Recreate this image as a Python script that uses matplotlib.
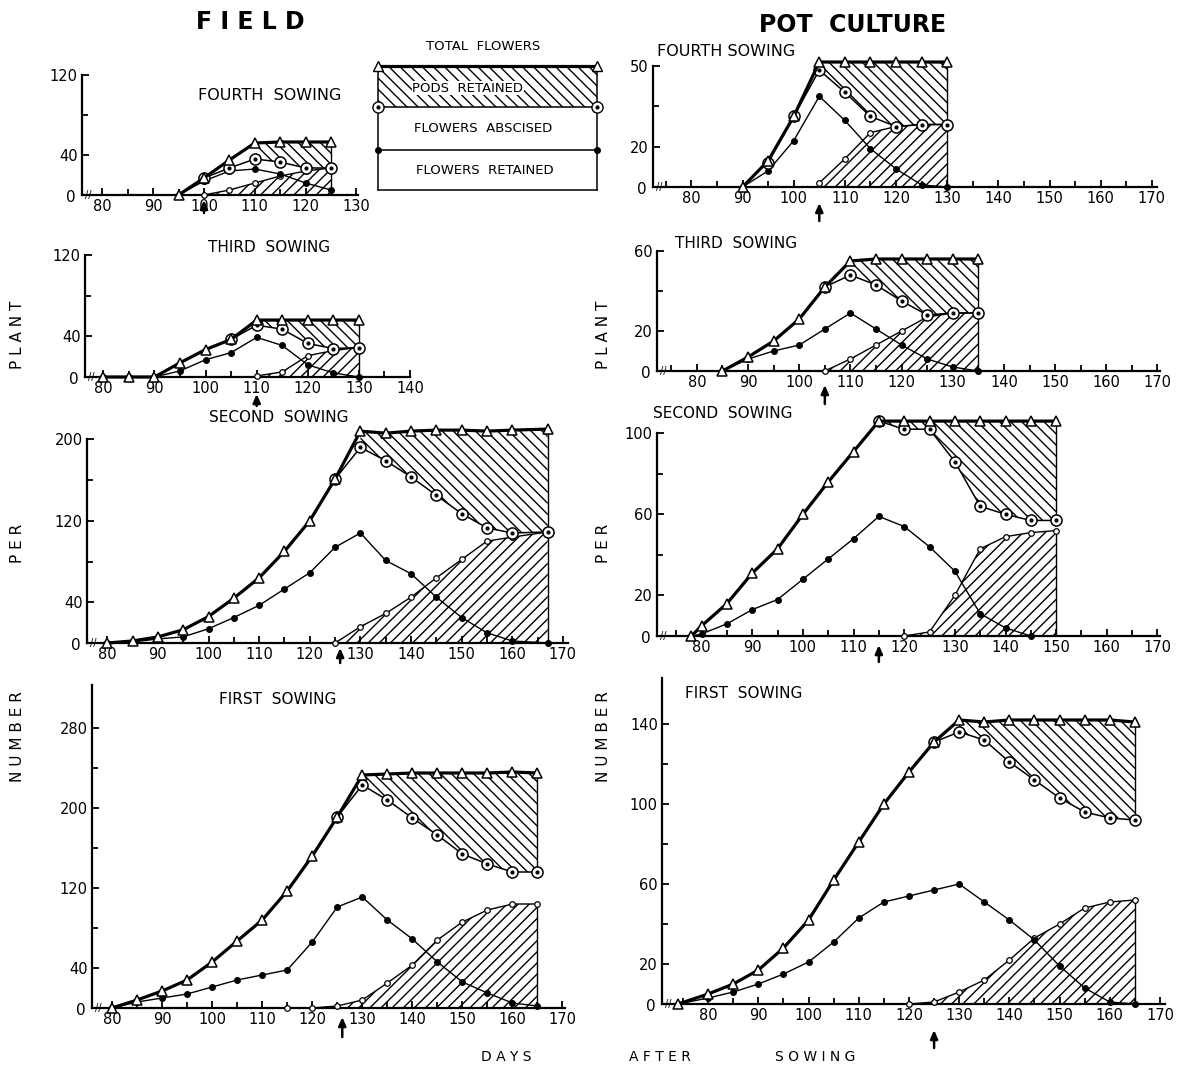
import numpy as np
import matplotlib.pyplot as plt
from matplotlib.ticker import FixedLocator, MultipleLocator

plt.rcParams['font.family'] = ['DejaVu Sans']
plt.rcParams['hatch.linewidth'] = 1.0

W, H = 1198, 1072

# ---------------- data (days after sowing, number per plant) ----------------
# FIELD - fourth sowing
f4_total_days = [95, 100, 105, 110, 115, 120, 125]
f4_total = [0, 17, 35, 52, 53, 53, 53]
f4_open_days = [100, 105, 110, 115, 120, 125]
f4_open = [17, 27, 36, 33, 27, 27]
f4_ret_days = [95, 100, 105, 110, 115, 120, 125]
f4_ret = [0, 14, 24, 26, 21, 12, 5]
f4_pods_days = [100, 105, 110, 115, 120, 125]
f4_pods = [0, 5, 12, 19, 24, 27]

# FIELD - third sowing
f3_total_days = [80, 85, 90, 95, 100, 105, 110, 115, 120, 125, 130]
f3_total = [0, 0, 0, 14, 27, 37, 56, 56, 56, 56, 56]
f3_open_days = [105, 110, 115, 120, 125, 130]
f3_open = [37, 51, 47, 33, 28, 29]
f3_ret_days = [80, 85, 90, 95, 100, 105, 110, 115, 120, 125, 130]
f3_ret = [0, 0, 0, 6, 17, 24, 39, 31, 12, 4, 0]
f3_pods_days = [110, 115, 120, 125, 130]
f3_pods = [1, 5, 21, 26, 29]

# FIELD - second sowing
f2_total_days = [80, 85, 90, 95, 100, 105, 110, 115, 120, 125, 130, 135, 140, 145, 150, 155, 160, 167]
f2_total = [0, 2, 6, 13, 26, 44, 64, 90, 120, 161, 208, 206, 208, 209, 209, 208, 209, 210]
f2_open_days = [125, 130, 135, 140, 145, 150, 155, 160, 167]
f2_open = [161, 192, 179, 163, 145, 127, 113, 108, 109]
f2_ret_days = [80, 85, 90, 95, 100, 105, 110, 115, 120, 125, 130, 135, 140, 145, 150, 155, 160, 167]
f2_ret = [0, 1, 4, 6, 14, 25, 37, 53, 69, 94, 108, 81, 68, 45, 25, 10, 2, 0]
f2_pods_days = [125, 130, 135, 140, 145, 150, 155, 160, 167]
f2_pods = [0, 16, 29, 45, 64, 82, 100, 104, 109]

# FIELD - first sowing
f1_total_days = [80, 85, 90, 95, 100, 105, 110, 115, 120, 125, 130, 135, 140, 145, 150, 155, 160, 165]
f1_total = [0, 8, 17, 28, 46, 67, 88, 117, 152, 191, 233, 234, 235, 235, 235, 235, 236, 235]
f1_open_days = [125, 130, 135, 140, 145, 150, 155, 160, 165]
f1_open = [191, 223, 208, 190, 173, 154, 144, 136, 136]
f1_ret_days = [80, 85, 90, 95, 100, 105, 110, 115, 120, 125, 130, 135, 140, 145, 150, 155, 160, 165]
f1_ret = [0, 6, 10, 14, 21, 28, 33, 38, 66, 101, 111, 88, 69, 46, 26, 15, 5, 2]
f1_pods_days = [115, 120, 125, 130, 135, 140, 145, 150, 155, 160, 165]
f1_pods = [0, 0, 2, 8, 25, 43, 68, 86, 98, 104, 104]

# POT CULTURE - fourth sowing
p4_total_days = [90, 95, 100, 105, 110, 115, 120, 125, 130]
p4_total = [0, 13, 35, 62, 62, 62, 62, 62, 62]
p4_open_days = [95, 100, 105, 110, 115, 120, 125, 130]
p4_open = [12, 35, 58, 47, 35, 30, 31, 31]
p4_ret_days = [90, 95, 100, 105, 110, 115, 120, 125, 130]
p4_ret = [0, 8, 23, 45, 33, 19, 9, 1, 0]
p4_pods_days = [105, 110, 115, 120, 125, 130]
p4_pods = [2, 14, 27, 30, 31, 31]

# POT CULTURE - third sowing
p3_total_days = [85, 90, 95, 100, 105, 110, 115, 120, 125, 130, 135]
p3_total = [0, 7, 15, 26, 42, 55, 56, 56, 56, 56, 56]
p3_open_days = [105, 110, 115, 120, 125, 130, 135]
p3_open = [42, 48, 43, 35, 28, 29, 29]
p3_ret_days = [85, 90, 95, 100, 105, 110, 115, 120, 125, 130, 135]
p3_ret = [0, 6, 10, 13, 21, 29, 21, 13, 6, 2, 0]
p3_pods_days = [105, 110, 115, 120, 125, 130, 135]
p3_pods = [0, 6, 13, 20, 27, 29, 29]

# POT CULTURE - second sowing
p2_total_days = [78, 80, 85, 90, 95, 100, 105, 110, 115, 120, 125, 130, 135, 140, 145, 150]
p2_total = [0, 5, 16, 31, 43, 60, 76, 91, 106, 106, 106, 106, 106, 106, 106, 106]
p2_open_days = [115, 120, 125, 130, 135, 140, 145, 150]
p2_open = [106, 102, 102, 86, 64, 60, 57, 57]
p2_ret_days = [78, 80, 85, 90, 95, 100, 105, 110, 115, 120, 125, 130, 135, 140, 145]
p2_ret = [0, 1, 6, 13, 18, 28, 38, 48, 59, 54, 44, 32, 11, 4, 0]
p2_pods_days = [120, 125, 130, 135, 140, 145, 150]
p2_pods = [0, 2, 20, 43, 49, 51, 52]

# POT CULTURE - first sowing
p1_total_days = [74, 80, 85, 90, 95, 100, 105, 110, 115, 120, 125, 130, 135, 140, 145, 150, 155, 160, 165]
p1_total = [0, 5, 10, 17, 28, 42, 62, 81, 100, 116, 131, 142, 141, 142, 142, 142, 142, 142, 141]
p1_open_days = [125, 130, 135, 140, 145, 150, 155, 160, 165]
p1_open = [131, 136, 132, 121, 112, 103, 96, 93, 92]
p1_ret_days = [74, 80, 85, 90, 95, 100, 105, 110, 115, 120, 125, 130, 135, 140, 145, 150, 155, 160, 165]
p1_ret = [0, 3, 6, 10, 15, 21, 31, 43, 51, 54, 57, 60, 51, 42, 32, 19, 8, 1, 0]
p1_pods_days = [120, 125, 130, 135, 140, 145, 150, 155, 160, 165]
p1_pods = [0, 1, 6, 12, 22, 33, 40, 48, 51, 52]

# y tick labels per panel
field_small_yticks = [40, 120]
field_2_yticks = [40, 120, 200]
field_1_yticks = [40, 120, 200, 280]
pot_4_yticks = [20, 60]
pot_4_ylabels = ['20', '50']
pot_3_yticks = [20, 60]
pot_2_yticks = [20, 60, 100]
pot_1_yticks = [20, 60, 100, 140]

# arrows under the day axis
field_arrow_days = [100, 110, 126, 126]
pot_arrow_days = [105, 105, 115, 125]

UP_HATCH = '\\\\\\'
LOW_HATCH = '///'

fig = plt.figure(figsize=(W / 100, H / 100), dpi=100)


def px_axes(x0, x1, y0, y1):
    # x0,x1 left/right pixel, y0 bottom pixel, y1 top pixel
    return fig.add_axes([x0 / W, 1 - y0 / H, (x1 - x0) / W, (y0 - y1) / H])


def ftext(x, y, s, **kw):
    fig.text(x / W, 1 - y / H, s, **kw)


def panel(geom, xlim, ylim, spine_top, xlab_max, yt, ylab, ymin,
          tot_d, tot, op_d, op, ret_d, ret, pod_d, pod, arrow_day, arrow_px):
    ax = px_axes(*geom)
    ax.set_xlim(*xlim)
    ax.set_ylim(*ylim)
    ax.patch.set_alpha(0)
    for s in ['top', 'right']:
        ax.spines[s].set_visible(False)
    ax.spines['left'].set_bounds(0, spine_top)
    ax.spines['left'].set_linewidth(1.6)
    ax.spines['bottom'].set_linewidth(1.6)

    tot_d, tot = np.array(tot_d), np.array(tot)
    op_d, op = np.array(op_d), np.array(op)
    peak = tot_d[np.argmax(tot >= 0.98 * tot.max())]
    top_i = np.interp(op_d, tot_d, tot)
    ax.fill_between(op_d, op, top_i, where=op_d >= peak, facecolor='none',
                    edgecolor='black', hatch=UP_HATCH, linewidth=0)
    ax.plot([op_d[-1]] * 2, [op[-1], top_i[-1]], color='black', lw=1)
    ax.fill_between(pod_d, 0, pod, facecolor='none', edgecolor='black',
                    hatch=LOW_HATCH, linewidth=0)
    ax.plot([pod_d[-1]] * 2, [0, pod[-1]], color='black', lw=1)

    ax.plot(pod_d, pod, color='black', lw=1, marker='o', ms=4,
            mfc='white', mec='black', mew=0.9, clip_on=False, zorder=3)
    ax.plot(ret_d, ret, color='black', lw=1, marker='o', ms=4,
            mfc='black', mec='black', clip_on=False, zorder=4)
    ax.plot(op_d, op, color='black', lw=1.1, marker='o', ms=8,
            mfc='white', mec='black', mew=1.1, clip_on=False, zorder=5)
    ax.plot(op_d, op, ls='none', marker='o', ms=2, color='black',
            clip_on=False, zorder=6)
    ax.plot(tot_d, tot, color='black', lw=2.3, marker='^', ms=7,
            mfc='white', mec='black', mew=1.1, clip_on=False, zorder=7)

    ax.set_xticks(np.arange(80, xlab_max + 1, 10))
    ax.xaxis.set_minor_locator(MultipleLocator(5))
    ax.set_yticks(yt)
    ax.set_yticklabels(ylab)
    ax.yaxis.set_minor_locator(FixedLocator(ymin))
    ax.tick_params(which='major', direction='in', length=5, width=1.3,
                   labelsize=10.5, pad=3)
    ax.tick_params(which='minor', direction='in', length=4, width=1.3)
    ax.annotate('0', xy=(0, 0), xycoords='axes fraction', xytext=(-8, -2),
                textcoords='offset points', ha='center', va='center', fontsize=11)
    ax.text(xlim[0] + 1.3, 0, '//', fontsize=7, ha='center', va='center')
    head, tail = arrow_px
    ax.annotate('', xy=(arrow_day, 0), xycoords=('data', 'axes fraction'),
                xytext=(0, -tail * 0.72), textcoords='offset points',
                arrowprops=dict(arrowstyle='-|>,head_length=0.5,head_width=0.22',
                                color='black', lw=1.8, shrinkA=0,
                                shrinkB=head * 0.72),
                annotation_clip=False)
    return ax


# ---------------- FIELD ----------------
panel((82, 358, 195, 75), (76, 130.3), (0, 120), 120, 130,
      field_small_yticks, ['40', '120'], [80],
      f4_total_days, f4_total, f4_open_days, f4_open, f4_ret_days, f4_ret,
      f4_pods_days, f4_pods, field_arrow_days[0], (5, 18))
panel((85, 410, 377, 255), (76.4, 139.8), (0, 120), 120, 140,
      field_small_yticks, ['40', '120'], [80],
      f3_total_days, f3_total, f3_open_days, f3_open, f3_ret_days, f3_ret,
      f3_pods_days, f3_pods, field_arrow_days[1], (17, 29))
panel((87, 568, 643, 424), (76, 171), (0, 215), 200, 170,
      field_2_yticks, ['40', '120', '200'], [80, 160],
      f2_total_days, f2_total, f2_open_days, f2_open, f2_ret_days, f2_ret,
      f2_pods_days, f2_pods, field_arrow_days[2], (5, 20))
panel((92, 565, 1008, 685), (76, 170.5), (0, 323), 323, 170,
      field_1_yticks, ['40', '120', '200', '280'], [80, 160, 240],
      f1_total_days, f1_total, f1_open_days, f1_open, f1_ret_days, f1_ret,
      f1_pods_days, f1_pods, field_arrow_days[3], (9, 29))

# ---------------- POT CULTURE ----------------
panel((653, 1157, 187, 58), (72.5, 171), (0, 64), 60, 170,
      pot_4_yticks, pot_4_ylabels, [40],
      p4_total_days, p4_total, p4_open_days, p4_open, p4_ret_days, p4_ret,
      p4_pods_days, p4_pods, pot_arrow_days[0], (16, 34))
panel((657, 1160, 371, 251), (72.2, 170.5), (0, 60), 60, 170,
      pot_3_yticks, ['20', '60'], [40],
      p3_total_days, p3_total, p3_open_days, p3_open, p3_ret_days, p3_ret,
      p3_pods_days, p3_pods, pot_arrow_days[1], (14, 33))
panel((657, 1160, 636, 413), (71.2, 170.5), (0, 110), 100, 170,
      pot_2_yticks, ['20', '60', '100'], [40, 80],
      p2_total_days, p2_total, p2_open_days, p2_open, p2_ret_days, p2_ret,
      p2_pods_days, p2_pods, pot_arrow_days[2], (9, 26))
panel((662, 1165, 1004, 678), (70.8, 171), (0, 163), 163, 170,
      pot_1_yticks, ['20', '60', '100', '140'], [40, 80, 120],
      p1_total_days, p1_total, p1_open_days, p1_open, p1_ret_days, p1_ret,
      p1_pods_days, p1_pods, pot_arrow_days[3], (26, 44))

# ---------------- legend box ----------------
lg = px_axes(378, 597, 190, 66)
lg.set_xlim(0, 1)
lg.set_ylim(0, 124)
lg.axis('off')
lg.fill_between([0, 1], 83, 124, facecolor='none', edgecolor='black',
                hatch=UP_HATCH, linewidth=0)
lg.plot([0, 1], [124, 124], color='black', lw=2.3, clip_on=False)
for yy in [83, 40, 0]:
    lg.plot([0, 1], [yy, yy], color='black', lw=1.1, clip_on=False)
for xx in [0, 1]:
    lg.plot([xx, xx], [0, 124], color='black', lw=1.1, clip_on=False)
lg.plot([0, 1], [124, 124], ls='none', marker='^', ms=7, mfc='white',
        mec='black', clip_on=False, zorder=5)
lg.plot([0, 1], [83, 83], ls='none', marker='o', ms=8, mfc='white',
        mec='black', clip_on=False, zorder=5)
lg.plot([0, 1], [83, 83], ls='none', marker='o', ms=2, color='black',
        clip_on=False, zorder=6)
lg.plot([0, 1], [40, 40], ls='none', marker='o', ms=4, color='black',
        clip_on=False, zorder=5)
lg.text(0.41, 102, 'PODS  RETAINED', ha='center', va='center', fontsize=9.5,
        bbox=dict(facecolor='white', edgecolor='none', pad=0.5))
lg.text(0.48, 61, 'FLOWERS  ABSCISED', ha='center', va='center', fontsize=9.5)
lg.text(0.49, 19, 'FLOWERS  RETAINED', ha='center', va='center', fontsize=9.5)
ftext(483, 47, 'TOTAL  FLOWERS', ha='center', va='center', fontsize=9.5)

# ---------------- titles and labels ----------------
ftext(250, 22, 'F I E L D', ha='center', va='center', fontsize=17, fontweight='bold')
ftext(853, 25, 'POT  CULTURE', ha='center', va='center', fontsize=17, fontweight='bold')

ftext(270, 95, 'FOURTH  SOWING', ha='center', va='center', fontsize=11.5)
ftext(269, 247, 'THIRD  SOWING', ha='center', va='center', fontsize=11)
ftext(279, 417, 'SECOND  SOWING', ha='center', va='center', fontsize=11)
ftext(278, 700, 'FIRST  SOWING', ha='center', va='center', fontsize=11)
ftext(726, 52, 'FOURTH SOWING', ha='center', va='center', fontsize=11.5)
ftext(736, 244, 'THIRD  SOWING', ha='center', va='center', fontsize=11)
ftext(723, 413, 'SECOND  SOWING', ha='center', va='center', fontsize=11)
ftext(744, 694, 'FIRST  SOWING', ha='center', va='center', fontsize=11)

for xl in [18, 603]:
    ftext(xl, 335, 'P L A N T', rotation=90, ha='center', va='center', fontsize=11)
    ftext(xl, 543, 'P E R', rotation=90, ha='center', va='center', fontsize=11)
    ftext(xl, 737, 'N U M B E R', rotation=90, ha='center', va='center', fontsize=11)

ftext(506, 1057, 'D A Y S', ha='center', va='center', fontsize=10)
ftext(660, 1057, 'A F T E R', ha='center', va='center', fontsize=10)
ftext(815, 1057, 'S O W I N G', ha='center', va='center', fontsize=10)

fig.savefig('out.png', dpi=100)
